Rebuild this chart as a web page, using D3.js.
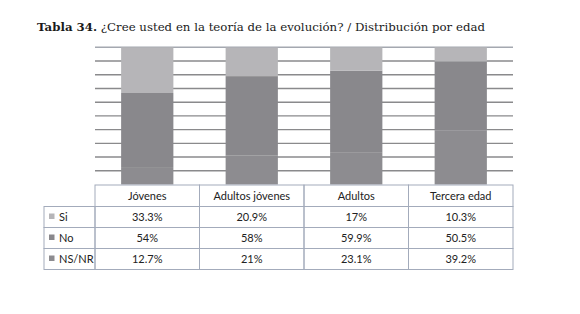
<!DOCTYPE html>
<html>
<head>
<meta charset="utf-8">
<script src="https://cdn.jsdelivr.net/npm/d3@7"></script>
<style>
  body { margin: 0; background: #fff; }
  svg { display: block; }
</style>
</head>
<body>
<div id="chart"></div>
<script>
// Data
var categories = ['Jóvenes', 'Adultos jóvenes', 'Adultos', 'Tercera edad'];
var seriesNames = ['Si', 'No', 'NS/NR'];
var si = [33.3, 20.9, 17, 10.3];
var no = [54, 58, 59.9, 50.5];
var nsnr = [12.7, 21, 23.1, 39.2];
var cellLabels = [
    ['33.3%', '20.9%', '17%', '10.3%'],
    ['54%', '58%', '59.9%', '50.5%'],
    ['12.7%', '21%', '23.1%', '39.2%']
];
var yTicks = [10, 20, 30, 40, 50, 60, 70, 80, 90, 100];

var width = 580, height = 314;
var colors = { 'Si': '#b6b5b8', 'No': '#89888c', 'NS/NR': '#8d8c90' };

var svg = d3.select('#chart').append('svg')
    .attr('width', width)
    .attr('height', height);

// Title
var title = svg.append('text')
    .attr('x', 37)
    .attr('y', 30.5)
    .style('font-family', '"DejaVu Serif", serif')
    .style('font-size', '11.75px')
    .attr('fill', '#1a1a1a');
title.append('tspan').style('font-weight', 'bold').text('Tabla 34.');
title.append('tspan').text(' ¿Cree usted en la teoría de la evolución? / Distribución por edad');

// Scales
var x = d3.scaleBand()
    .domain(categories)
    .range([95, 513])
    .paddingInner(0.5)
    .paddingOuter(0.25);

var col = d3.scaleBand()
    .domain(categories)
    .range([95, 513]);

var y = d3.scaleLinear()
    .domain([0, 100])
    .range([184.5, 47.3]);

// Gridlines
svg.append('g').selectAll('line')
    .data(yTicks)
    .enter().append('line')
    .attr('x1', 95)
    .attr('x2', 513)
    .attr('y1', function(d) { return y(d); })
    .attr('y2', function(d) { return y(d); })
    .attr('stroke', function(d) { return d === 100 ? '#a4a8b0' : '#8a8a8c'; })
    .attr('stroke-width', 1.4);

// Stacked bars (bottom NS/NR, then No, then Si)
var rows = categories.map(function(c, i) {
    return { cat: c, 'Si': si[i], 'No': no[i], 'NS/NR': nsnr[i] };
});
var stack = d3.stack().keys(['NS/NR', 'No', 'Si']);
var layers = stack(rows);

svg.append('g').selectAll('g')
    .data(layers)
    .enter().append('g')
    .attr('fill', function(d) { return colors[d.key]; })
    .selectAll('rect')
    .data(function(d) { return d; })
    .enter().append('rect')
    .attr('x', function(d) { return x(d.data.cat); })
    .attr('width', x.bandwidth())
    .attr('y', function(d) { return y(Math.min(d[1], 100)); })
    .attr('height', function(d) { return y(d[0]) - y(Math.min(d[1], 100)); });

// Data table
var border = '#a3abbb';
var headTop = 185, headH = 21.5, rowH = 21;
var tbl = svg.append('g')
    .style('font-family', 'Lato, sans-serif')
    .style('font-size', '11px')
    .attr('fill', '#222');

// header cells
tbl.selectAll('.hcell')
    .data(categories)
    .enter().append('rect')
    .attr('class', 'hcell')
    .attr('x', function(d) { return col(d); })
    .attr('y', headTop)
    .attr('width', col.bandwidth())
    .attr('height', headH)
    .attr('fill', 'none')
    .attr('stroke', border);

tbl.selectAll('.htext')
    .data(categories)
    .enter().append('text')
    .attr('x', function(d) { return col(d) + col.bandwidth() / 2; })
    .attr('y', headTop + headH / 2 + 4)
    .attr('text-anchor', 'middle')
    .text(function(d) { return d; });

// body rows
seriesNames.forEach(function(s, r) {
    var ry = headTop + headH + r * rowH;
    tbl.append('rect')
        .attr('x', 44)
        .attr('y', ry)
        .attr('width', 51)
        .attr('height', rowH)
        .attr('fill', 'none')
        .attr('stroke', border);
    tbl.append('rect')
        .attr('x', 49)
        .attr('y', ry + rowH / 2 - 3.5)
        .attr('width', 5.5)
        .attr('height', 5.5)
        .attr('fill', colors[s]);
    tbl.append('text')
        .attr('x', 59)
        .attr('y', ry + rowH / 2 + 4)
        .text(s);
    categories.forEach(function(c, i) {
        tbl.append('rect')
            .attr('x', col(c))
            .attr('y', ry)
            .attr('width', col.bandwidth())
            .attr('height', rowH)
            .attr('fill', 'none')
            .attr('stroke', border);
        tbl.append('text')
            .attr('x', col(c) + col.bandwidth() / 2)
            .attr('y', ry + rowH / 2 + 4)
            .attr('text-anchor', 'middle')
            .text(cellLabels[r][i]);
    });
});
</script>
</body>
</html>
